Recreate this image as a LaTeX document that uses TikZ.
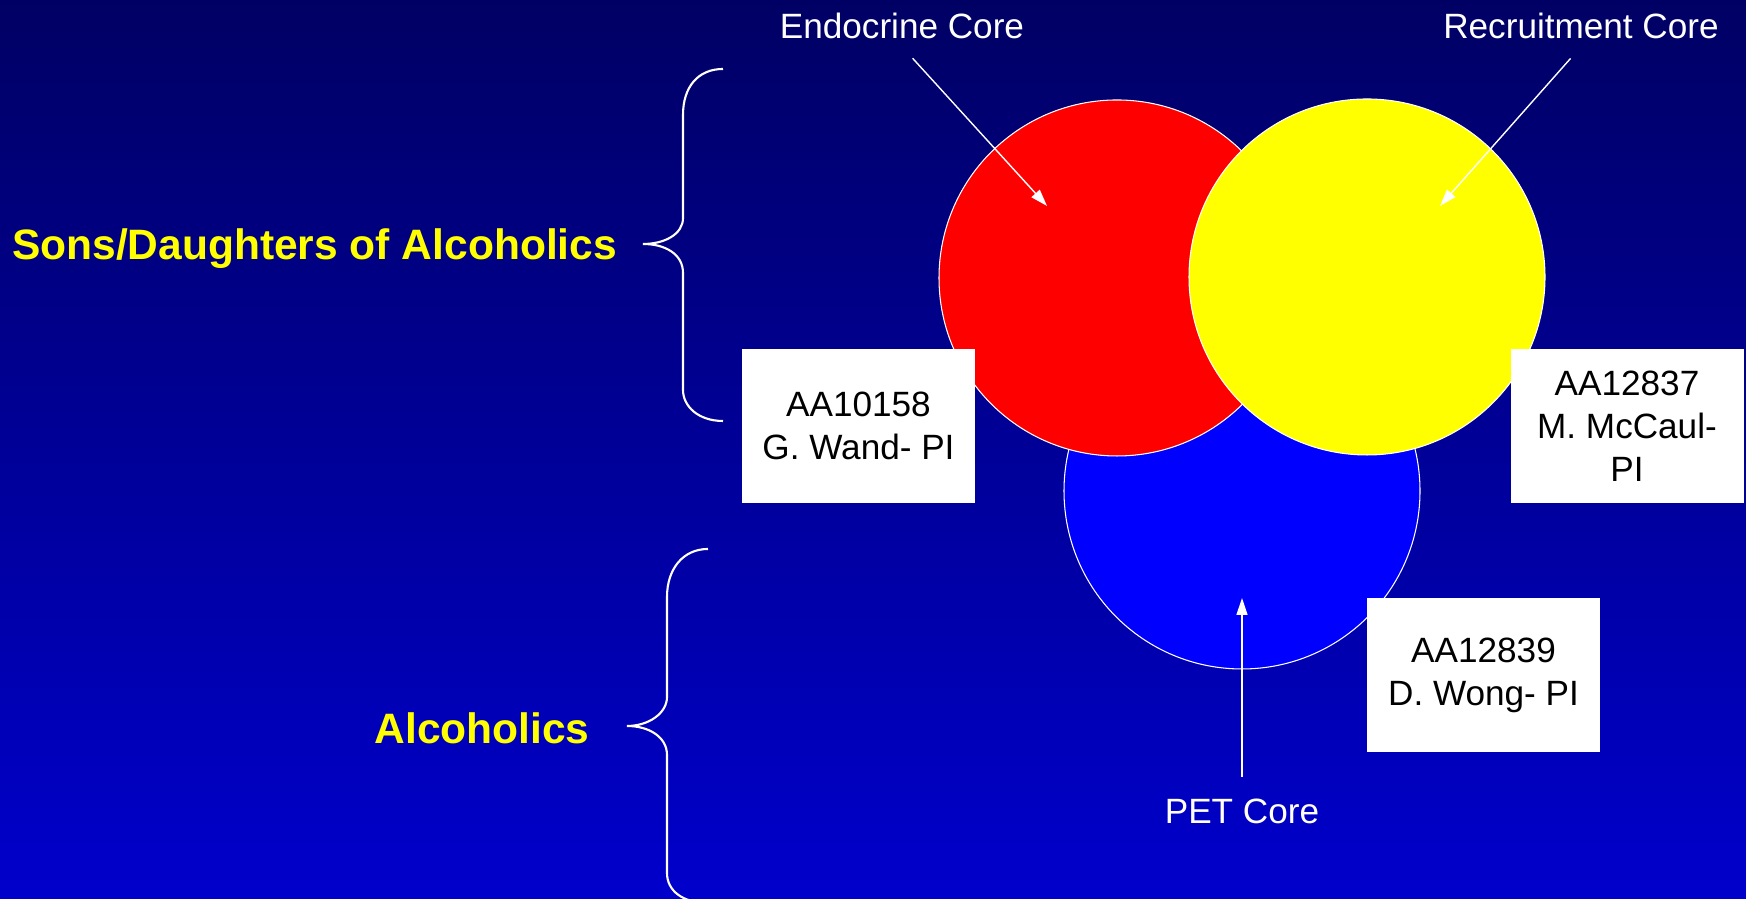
\documentclass[tikz,border=0pt]{standalone}
\usepackage{fontspec}
\setmainfont{Liberation Sans}
\usetikzlibrary{arrows.meta}
\definecolor{bgtop}{RGB}{0,0,100}
\definecolor{bgbot}{RGB}{0,0,204}
\definecolor{coreyellow}{RGB}{255,255,0}
\tikzset{
  core/.style={circle, draw=white, line width=0.3pt, minimum size=3.56cm, inner sep=0pt},
  grant/.style={fill=white, minimum width=2.33cm, minimum height=1.54cm, align=center, text=black, font=\fontsize{10}{12.2}\selectfont},
  corelbl/.style={text=white, inner sep=2pt, font=\fontsize{10}{12}\selectfont},
  group/.style={text=coreyellow, font=\bfseries\fontsize{12.1}{14}\selectfont},
  pointer/.style={white, line width=0.4pt, -{Triangle[length=0.17cm,width=0.11cm]}},
  bracket/.style={white, line width=0.6pt}
}
\begin{document}
\begin{tikzpicture}

\shade[top color=bgtop, bottom color=bgbot] (0,0) rectangle (17.46,8.99) ;
\useasboundingbox (0,0) rectangle (17.46,8.99) ;

\node[core, fill=blue] (petc) at (12.42,4.08) {} ;
\node[core, fill=red] (endoc) at (11.17,6.21) {} ;
\node[core, fill=coreyellow] (recc) at (13.67,6.22) {} ;

\node[grant] (wand) at (8.585,4.73) {AA10158\\G. Wand- PI} ;
\node[grant] (mccaul) at (16.27,4.73) {AA12837\\M. McCaul-\\PI} ;
\node[grant] (wong) at (14.835,2.235) {AA12839\\D. Wong- PI} ;

\node[corelbl] (endo) at (9.02,8.73) {Endocrine Core} ;
\node[corelbl] (recruit) at (15.81,8.73) {Recruitment Core} ;
\node[corelbl] (pet) at (12.42,0.88) {PET Core} ;
\coordinate (endotip) at (10.47,6.93) ;
\coordinate (rectip) at (14.40,6.93) ;
\coordinate (pettip) at (12.42,3.01) ;
\draw[pointer, shorten <=4.5pt] (endo.south) -- (endotip) ;
\draw[pointer, shorten <=4.5pt] (recruit.south) -- (rectip) ;
\draw[pointer, shorten <=4pt] (pet.north) -- (pettip) ;

\node[group] (sons) at (3.145,6.50) {Sons/Daughters of Alcoholics} ;
\node[group] (alc) at (4.82,1.71) {Alcoholics} ;

\draw[bracket] (7.23,8.30) .. controls (6.98,8.30) and (6.83,8.12) .. (6.83,7.84) -- (6.83,6.81)
  .. controls (6.83,6.65) and (6.65,6.55) .. (6.43,6.55)
  .. controls (6.65,6.55) and (6.83,6.45) .. (6.83,6.26) -- (6.83,5.09)
  .. controls (6.83,4.93) and (6.98,4.78) .. (7.23,4.78) ;
\draw[bracket] (7.08,3.50) .. controls (6.83,3.50) and (6.67,3.30) .. (6.67,3.02) -- (6.67,2.02)
  .. controls (6.67,1.86) and (6.49,1.73) .. (6.27,1.73)
  .. controls (6.49,1.73) and (6.67,1.62) .. (6.67,1.44) -- (6.67,0.26)
  .. controls (6.67,0.08) and (6.83,-0.04) .. (7.08,-0.04) ;

\end{tikzpicture}
\end{document}
